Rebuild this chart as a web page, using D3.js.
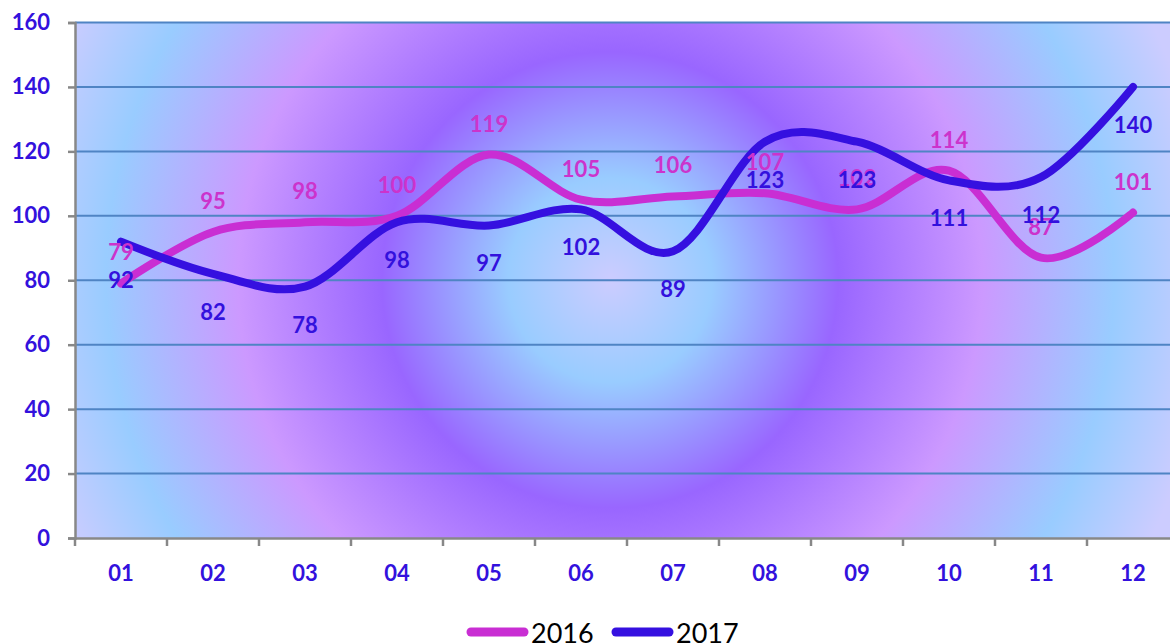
<!DOCTYPE html>
<html>
<head>
<meta charset="utf-8">
<script src="https://cdn.jsdelivr.net/npm/d3@7"></script>
<style>
  body { margin: 0; background: #fff; }
  svg { display: block; font-family: Lato, "Open Sans", sans-serif; }
</style>
</head>
<body>
<div id="chart"></div>
<script>
// data
var months = ["01", "02", "03", "04", "05", "06", "07", "08", "09", "10", "11", "12"];
var sales2016 = [79, 95, 98, 100, 119, 105, 106, 107, 102, 114, 87, 101];
var sales2017 = [92, 82, 78, 98, 97, 102, 89, 123, 123, 111, 112, 140];
var yTicks = [0, 20, 40, 60, 80, 100, 120, 140, 160];
var seriesNames = ["2016", "2017"];

var pink = "#c92ed3",
    blue = "#3510e0",
    tickBlue = "#3311dd";

var width = 1170, height = 644;
var plotLeft = 75, plotTop = 22.5, plotW = 92 * 12, plotH = 515.5;

var svg = d3.select("#chart")
    .append("svg")
    .attr("width", width)
    .attr("height", height);

var x = d3.scaleBand().domain(months).range([plotLeft, plotLeft + plotW]);
var y = d3.scaleLinear().domain([0, 160]).range([plotTop + plotH, plotTop]);

// background radial gradient
var grad = svg.append("defs").append("radialGradient")
    .attr("id", "bg")
    .attr("gradientUnits", "userSpaceOnUse")
    .attr("cx", 610).attr("cy", 280).attr("r", 600);
[[0, "#ccccff"], [0.17, "#99ccff"], [0.38, "#9966ff"], [0.62, "#cc99ff"], [0.84, "#99ccff"], [1, "#ccccff"]]
  .forEach(function(s) {
    grad.append("stop").attr("offset", s[0]).attr("stop-color", s[1]);
  });

svg.append("rect")
    .attr("x", plotLeft).attr("y", plotTop)
    .attr("width", plotW).attr("height", plotH)
    .style("fill", "url(#bg)");

// gridlines
svg.append("g")
  .selectAll("line")
  .data(yTicks.filter(function(d) { return d > 0; }))
  .enter().append("line")
    .attr("x1", plotLeft).attr("x2", plotLeft + plotW)
    .attr("y1", function(d) { return y(d); })
    .attr("y2", function(d) { return y(d); })
    .style("stroke", "#4f84c4")
    .style("stroke-width", 2);

// y axis
var yAxis = svg.append("g")
    .attr("transform", "translate(" + plotLeft + ",0)")
    .call(d3.axisLeft(y).tickValues(yTicks).tickSize(7).tickPadding(18));
yAxis.select(".domain").style("stroke", "#888").style("stroke-width", 2.5);
yAxis.selectAll(".tick line").style("stroke", "#888").style("stroke-width", 2.5);
yAxis.selectAll("text")
    .style("font-family", "Lato")
    .style("font-weight", "bold")
    .style("font-size", "22px")
    .style("fill", tickBlue);

// x axis
var xAxis = svg.append("g")
    .attr("transform", "translate(0," + y(0) + ")")
    .call(d3.axisBottom(x).tickSize(0).tickPadding(27));
xAxis.select(".domain").style("stroke", "#888").style("stroke-width", 2.5);
xAxis.selectAll("text")
    .style("font-family", "Lato")
    .style("font-weight", "bold")
    .style("font-size", "22px")
    .style("fill", tickBlue);
xAxis.selectAll(".boundary")
    .data(d3.range(months.length + 1))
    .enter().append("line")
    .attr("x1", function(d) { return plotLeft + d * x.step(); })
    .attr("x2", function(d) { return plotLeft + d * x.step(); })
    .attr("y1", 0).attr("y2", 8)
    .style("stroke", "#888")
    .style("stroke-width", 2.5);

// lines
var line = d3.line()
    .x(function(d, i) { return x(months[i]) + x.bandwidth() / 2; })
    .y(function(d) { return y(d); })
    .curve(d3.curveCardinal.tension(0));

[[sales2016, pink], [sales2017, blue]].forEach(function(s) {
  svg.append("path")
      .datum(s[0])
      .attr("d", line)
      .style("fill", "none")
      .style("stroke", s[1])
      .style("stroke-width", 8)
      .style("stroke-linecap", "round")
      .style("stroke-linejoin", "round");
});

// data labels
function labels(data, color, dy) {
  svg.append("g")
    .selectAll("text")
    .data(data)
    .enter().append("text")
      .attr("x", function(d, i) { return x(months[i]) + x.bandwidth() / 2; })
      .attr("y", function(d) { return y(d) + dy; })
      .attr("text-anchor", "middle")
      .style("font-weight", "bold")
      .style("font-size", "22px")
      .style("fill", color)
      .text(function(d) { return d; });
}
labels(sales2016, "#cc33cc", -23);
labels(sales2017, tickBlue, 46);

// legend
var legend = svg.append("g")
  .selectAll("g")
  .data(seriesNames)
  .enter().append("g")
    .attr("transform", function(d, i) { return "translate(" + (471 + i * 145) + ",632)"; });
legend.append("line")
    .attr("x1", 0).attr("x2", 53)
    .style("stroke", function(d, i) { return i ? blue : pink; })
    .style("stroke-width", 9)
    .style("stroke-linecap", "round");
legend.append("text")
    .attr("x", 60).attr("y", 11)
    .style("font-size", "27px")
    .style("fill", "#000")
    .text(function(d) { return d; });
</script>
</body>
</html>
